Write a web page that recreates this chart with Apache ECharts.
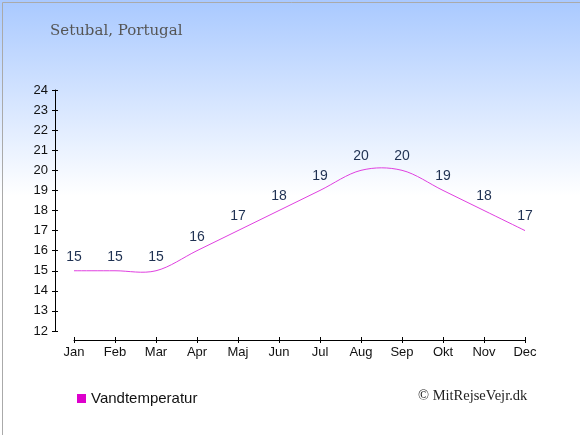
<!DOCTYPE html>
<html>
<head>
<meta charset="utf-8">
<script src="https://cdn.jsdelivr.net/npm/echarts@6/dist/echarts.min.js"></script>
<style>
  html, body { margin: 0; padding: 0; }
  #chart { width: 580px; height: 435px; }
</style>
</head>
<body>
<div id="chart"></div>
<script>
// data
var months = ['Jan','Feb','Mar','Apr','Maj','Jun','Jul','Aug','Sep','Okt','Nov','Dec'];
var waterTemp = [15, 15, 15, 16, 17, 18, 19, 20, 20, 19, 18, 17];
var yMin = 12, yMax = 24;

var chart = echarts.init(document.getElementById('chart'));

var axisFont = { fontFamily: 'Liberation Sans, Arial, sans-serif', fontSize: 13, color: '#111' };

// catmull-rom segment from point i to i+1, through the chart's own scales
function renderCurve(params, api) {
    var i = params.dataIndex;
    var n = waterTemp.length;
    if (i >= n - 1) return null;
    var pt = function (k) {
        k = Math.max(0, Math.min(n - 1, k));
        return api.coord([k, waterTemp[k]]);
    };
    var p0 = pt(i - 1), p1 = pt(i), p2 = pt(i + 1), p3 = pt(i + 2);
    var t = 1 / 6;
    var c1 = [p1[0] + (p2[0] - p0[0]) * t, p1[1] + (p2[1] - p0[1]) * t];
    var c2 = [p2[0] - (p3[0] - p1[0]) * t, p2[1] - (p3[1] - p1[1]) * t];
    return {
        type: 'bezierCurve',
        shape: { x1: p1[0], y1: p1[1], x2: p2[0], y2: p2[1],
                 cpx1: c1[0], cpy1: c1[1], cpx2: c2[0], cpy2: c2[1] },
        style: { stroke: '#e040e0', lineWidth: 1, fill: null }
    };
}

var option = {
    animation: false,
    backgroundColor: {
        type: 'linear', x: 0, y: 0, x2: 0, y2: 1,
        colorStops: [
            { offset: 0, color: '#a9c9ff' },
            { offset: 0.45, color: '#ffffff' },
            { offset: 1, color: '#ffffff' }
        ]
    },
    grid: { left: 74, right: 55, top: 90, bottom: 104 },
    legend: {
        data: ['Vandtemperatur'],
        left: 72, top: 386,
        icon: 'rect', itemWidth: 9, itemHeight: 9, itemGap: 7,
        textStyle: { fontFamily: 'Liberation Sans, Arial, sans-serif', fontSize: 15, color: '#111' }
    },
    xAxis: [{
        type: 'category', data: months, boundaryGap: false, offset: 9,
        axisLine: { lineStyle: { color: '#000', width: 1 } },
        axisTick: { alignWithLabel: true, length: 3, lineStyle: { color: '#000' } },
        axisLabel: Object.assign({ margin: 6 }, axisFont),
        splitLine: { show: false }
    }, {
        type: 'category', data: months, boundaryGap: false, offset: 9, position: 'bottom',
        axisLine: { show: false },
        axisTick: { inside: true, length: 3, lineStyle: { color: '#000' } },
        axisLabel: { show: false },
        splitLine: { show: false }
    }],
    yAxis: [{
        type: 'value', min: yMin, max: yMax, interval: 1, offset: 19,
        axisLine: { show: true, lineStyle: { color: '#000', width: 1 } },
        axisTick: { show: true, length: 3, lineStyle: { color: '#000' } },
        axisLabel: Object.assign({ margin: 7 }, axisFont),
        splitLine: { show: false }
    }, {
        type: 'value', min: yMin, max: yMax, interval: 1, offset: 19, position: 'left',
        axisLine: { show: false },
        axisTick: { show: true, inside: true, length: 3, lineStyle: { color: '#000' } },
        axisLabel: { show: false },
        splitLine: { show: false }
    }],
    series: [{
        name: 'Vandtemperatur',
        type: 'line',
        data: waterTemp,
        symbol: 'circle',
        symbolSize: 0,
        itemStyle: { color: '#dd00cc' },
        lineStyle: { opacity: 0 },
        label: {
            show: true, position: 'top', distance: 7,
            fontFamily: 'Liberation Sans, Arial, sans-serif', fontSize: 14, color: '#1f3152'
        }
    }, {
        name: 'curve',
        type: 'custom',
        data: waterTemp.map(function (v, i) { return [i, v]; }),
        renderItem: renderCurve,
        silent: true
    }],
    graphic: [{
        type: 'text', left: 50, top: 24,
        style: { text: 'Setubal, Portugal', font: '15px "DejaVu Serif", "Liberation Serif", serif', fill: '#555' }
    }, {
        type: 'text', left: 418, top: 389,
        style: { text: '© MitRejseVejr.dk', font: '14.5px "Liberation Serif", serif', fill: '#222' }
    }, {
        type: 'rect', left: 0, top: 0,
        shape: { x: 0, y: 0, width: 579, height: 434 },
        style: { fill: 'none', stroke: '#aaaaaa', lineWidth: 1 }
    }]
};

chart.setOption(option);
</script>
</body>
</html>
